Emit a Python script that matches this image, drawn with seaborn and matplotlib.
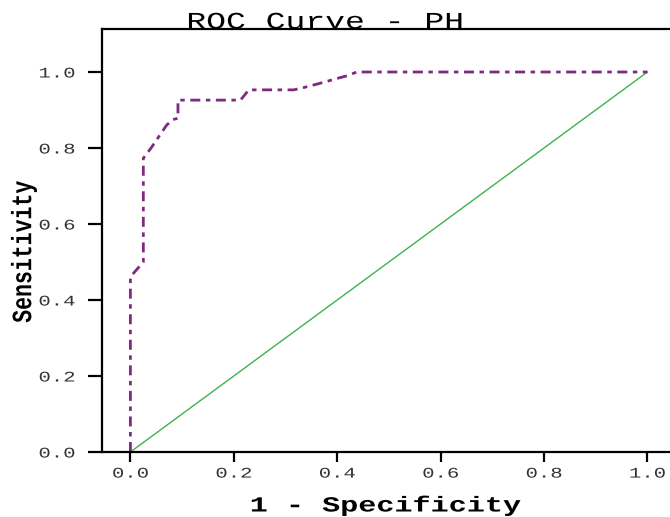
import matplotlib
matplotlib.use("Agg")
import matplotlib.pyplot as plt
import seaborn as sns
from matplotlib.patheffects import AbstractPathEffect
from matplotlib.transforms import Affine2D

# ---- data ----
fpr = [0.0, 0.0, 0.025, 0.025, 0.040, 0.055, 0.070, 0.082, 0.092, 0.092,
       0.213, 0.229, 0.316, 0.335, 0.355, 0.377, 0.397, 0.419, 0.438, 1.0]
tpr = [0.0, 0.461, 0.500, 0.773, 0.800, 0.830, 0.860, 0.875, 0.878, 0.926,
       0.926, 0.953, 0.953, 0.959, 0.966, 0.974, 0.982, 0.990, 1.000, 1.0]
ref_x = [0.0, 1.0]
ref_y = [0.0, 1.0]
tick_vals = [0.0, 0.2, 0.4, 0.6, 0.8, 1.0]
tick_labels = ["0.0", "0.2", "0.4", "0.6", "0.8", "1.0"]
title_text = "ROC Curve - PH"
xlabel_text = "1 - Specificity"
ylabel_text = "Sensitivity"


class StretchX(AbstractPathEffect):
    """Stretch rendered text horizontally (screen x) about an anchor."""
    def __init__(self, sx=1.4, anchor=0.5):
        super().__init__()
        self.sx = sx
        self.anchor = anchor

    def draw_path(self, renderer, gc, tpath, affine, rgbFace=None):
        v = affine.transform(tpath.vertices)
        if len(v):
            x0, x1 = v[:, 0].min(), v[:, 0].max()
            ax0 = x0 + self.anchor * (x1 - x0)
        else:
            ax0 = 0.0
        new = affine + Affine2D().translate(-ax0, 0).scale(self.sx, 1).translate(ax0, 0)
        renderer.draw_path(gc, tpath, new, rgbFace)


sns.set_style("white")
plt.rcParams["font.family"] = ["Liberation Mono", "DejaVu Sans Mono"]

W, H = 670, 517
fig = plt.figure(figsize=(W / 100, H / 100), dpi=100)
left_px, top_px, bottom_px = 101.7, 29, 452
ax = fig.add_axes([left_px / W, (H - bottom_px) / H, 1 - left_px / W, (bottom_px - top_px) / H])

sns.lineplot(x=ref_x, y=ref_y, ax=ax, color="#3cb449", linewidth=1.0,
             sort=False, estimator=None)
sns.lineplot(x=fpr, y=tpr, ax=ax, color="#7f2a80", linewidth=2.0,
             linestyle=(0, (3.6, 2.0, 1.6, 2.0)), sort=False, estimator=None)

ax.set_xlim(-0.0555, -0.0555 + (W - left_px) / 517)
ax.set_ylim(0, (bottom_px - top_px) / 380)
ax.set_xticks(tick_vals)
ax.set_xticklabels(tick_labels)
ax.set_yticks(tick_vals)
ax.set_yticklabels(tick_labels)

for s in ["left", "top", "bottom"]:
    ax.spines[s].set_visible(True)
    ax.spines[s].set_color("black")
    ax.spines[s].set_linewidth(1.6)
ax.spines["right"].set_visible(False)

ax.tick_params(axis="x", direction="out", length=7.5, width=1.6, pad=3,
               labelsize=10.6, colors="black", bottom=True)
ax.tick_params(axis="y", direction="out", length=10, width=1.6, pad=9,
               labelsize=10.6, colors="black", left=True)
for lab in ax.get_xticklabels():
    lab.set_path_effects([StretchX(1.4, 0.5)])
    lab.set_color("#333333")
for lab in ax.get_yticklabels():
    lab.set_path_effects([StretchX(1.4, 1.0)])
    lab.set_color("#333333")

fig.text(324.5 / W, 1 - 28.5 / H, title_text, ha="center", va="baseline",
         fontsize=17, color="black", path_effects=[StretchX(1.4, 0.5)])
fig.text(385 / W, 1 - 511.5 / H, xlabel_text, ha="center", va="baseline",
         fontsize=15.5, fontweight="bold", color="black",
         path_effects=[StretchX(1.4, 0.5)])
fig.text(24 / W, 1 - 252 / H, ylabel_text, ha="center", va="center",
         rotation=90, fontsize=15.5, fontweight="bold", color="black",
         path_effects=[StretchX(1.3, 0.5)])

fig.savefig("out.png", dpi=100)
